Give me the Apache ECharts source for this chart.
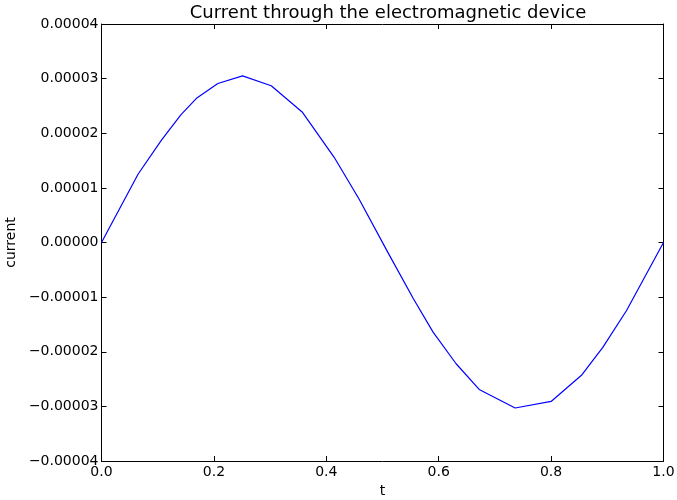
<!DOCTYPE html>
<html>
<head>
<meta charset="utf-8">
<script src="https://cdn.jsdelivr.net/npm/echarts@6/dist/echarts.min.js"></script>
<style>html,body{margin:0;padding:0;background:#fff}#c{width:677px;height:500px}</style>
</head>
<body>
<div id="c"></div>
<script>
const tValues = [0, 0.065, 0.107, 0.1415, 0.169, 0.207, 0.251, 0.302, 0.357, 0.414, 0.458, 0.51, 0.555, 0.590, 0.631, 0.672, 0.736, 0.800, 0.855, 0.892, 0.934, 1.0];
const currentValues = [0, 1.25e-5, 1.88e-5, 2.34e-5, 2.64e-5, 2.91e-5, 3.05e-5, 2.87e-5, 2.39e-5, 1.56e-5, 0.80e-5, -0.19e-5, -1.03e-5, -1.64e-5, -2.22e-5, -2.69e-5, -3.03e-5, -2.91e-5, -2.42e-5, -1.92e-5, -1.25e-5, 0];
const titleText = 'Current through the electromagnetic device';
const xName = 't';
const yName = 'current';

const FONT = 'DejaVu Sans';
const fmtY = v => {
  const r = Math.round(v * 1e5);
  if (r === 0) return '0.00000';
  return (r < 0 ? '\u2212' : '') + Math.abs(v).toFixed(5);
};
const fmtX = v => v.toFixed(1);
const lineStyle = {color: '#000', width: 1};
const tick = {show: true, inside: true, length: 5, lineStyle: {color: '#000', width: 1}};

const chart = echarts.init(document.getElementById('c'), null, {renderer: 'canvas'});
chart.setOption({
  animation: false,
  backgroundColor: '#fff',
  title: {
    text: titleText, left: 383, top: -1, textAlign: 'center',
    textStyle: {fontFamily: FONT, fontSize: 18, fontWeight: 'normal', color: '#000'}
  },
  grid: {left: 101.5, right: 13.5, top: 24, bottom: 39, containLabel: false, outerBoundsMode: 'none'},
  xAxis: [{
    type: 'value', min: 0, max: 1, interval: 0.2, position: 'bottom',
    name: xName, nameLocation: 'middle', nameGap: 22,
    nameTextStyle: {fontFamily: FONT, fontSize: 14, color: '#000'},
    axisLine: {show: true, onZero: false, lineStyle}, axisTick: tick, splitLine: {show: false},
    axisLabel: {formatter: fmtX, fontFamily: FONT, fontSize: 14, color: '#000', margin: 4}
  }, {
    type: 'value', min: 0, max: 1, interval: 0.2, position: 'top',
    axisLine: {show: true, onZero: false, lineStyle}, axisTick: tick, splitLine: {show: false},
    axisLabel: {show: false}
  }],
  yAxis: [{
    type: 'value', min: -4e-5, max: 4e-5, interval: 1e-5, position: 'left',
    name: yName, nameLocation: 'middle', nameGap: 82, nameRotate: 90,
    nameTextStyle: {fontFamily: FONT, fontSize: 14, color: '#000'},
    axisLine: {show: true, onZero: false, lineStyle}, axisTick: tick, splitLine: {show: false},
    axisLabel: {formatter: fmtY, fontFamily: FONT, fontSize: 14, color: '#000', margin: 3}
  }, {
    type: 'value', min: -4e-5, max: 4e-5, interval: 1e-5, position: 'right',
    axisLine: {show: true, onZero: false, lineStyle}, axisTick: tick, splitLine: {show: false},
    axisLabel: {show: false}
  }],
  series: [{
    type: 'line',
    data: tValues.map((t, i) => [t, currentValues[i]]),
    showSymbol: false, symbol: 'none',
    lineStyle: {color: '#0000ff', width: 1.2},
    clip: true
  }]
});
</script>
</body>
</html>
